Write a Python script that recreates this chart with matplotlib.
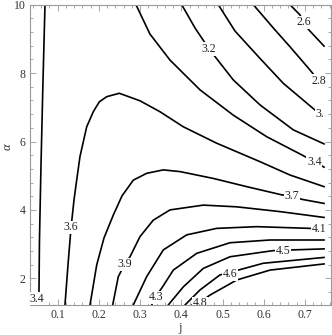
import matplotlib.pyplot as plt
from matplotlib.ticker import MultipleLocator

# contour lines, as (j, alpha) pairs
j_34a = [0.0692, 0.0640, 0.0595, 0.0558, 0.0546, 0.0546]
a_34a = [10.0, 7.60, 5.31, 3.12, 1.60, 1.22]

j_34b = [0.2900, 0.3240, 0.3726, 0.4454, 0.5262, 0.6073, 0.6922, 0.7228, 0.7464]
a_34b = [10.0, 9.14, 8.38, 7.51, 6.77, 6.14, 5.61, 5.41, 5.25]

j_36 = [0.1177, 0.1250, 0.1323, 0.1396, 0.1461, 0.1541, 0.1704, 0.1864, 0.2010,
        0.2189, 0.2495, 0.2998, 0.3483, 0.4049, 0.4859, 0.5910, 0.6638, 0.7464]
a_36 = [1.22, 2.39, 3.47, 4.29, 4.87, 5.56, 6.43, 6.87, 7.16,
        7.31, 7.41, 7.19, 6.87, 6.43, 5.95, 5.41, 5.02, 4.68]

j_37 = [0.1784, 0.1947, 0.2124, 0.2350, 0.2561, 0.2835, 0.3160, 0.3563, 0.3968,
        0.4777, 0.5587, 0.6437, 0.6687, 0.6922, 0.7464]
a_37 = [1.22, 2.39, 3.18, 3.85, 4.41, 4.87, 5.07, 5.17, 5.12,
        4.92, 4.68, 4.44, 4.41, 4.31, 4.19]

j_39 = [0.2335, 0.2471, 0.2633, 0.2755, 0.2998, 0.3320, 0.3726, 0.4534, 0.5345, 0.6396, 0.7464]
a_39 = [1.22, 2.05, 2.42, 2.63, 3.22, 3.70, 4.00, 4.14, 4.09, 3.95, 3.78]

j_41 = [0.2835, 0.3160, 0.3563, 0.4131, 0.4859, 0.5830, 0.7124, 0.7342, 0.7464]
a_41 = [1.22, 2.05, 2.83, 3.27, 3.46, 3.51, 3.46, 3.44, 3.43]

j_43 = [0.3282, 0.3381, 0.3524, 0.3806, 0.4374, 0.5182, 0.6153, 0.7464]
a_43 = [1.22, 1.48, 1.71, 2.24, 2.73, 3.04, 3.12, 3.12]

j_45 = [0.3684, 0.4049, 0.4534, 0.5182, 0.6233, 0.6468, 0.6680, 0.7464]
a_45 = [1.22, 1.75, 2.29, 2.63, 2.81, 2.80, 2.83, 2.86]

j_46 = [0.4090, 0.4454, 0.4939, 0.5182, 0.5383, 0.5990, 0.7464]
a_46 = [1.22, 1.66, 2.10, 2.16, 2.24, 2.44, 2.61]

j_48 = [0.4260, 0.4454, 0.4697, 0.5345, 0.6153, 0.7464]
a_48 = [1.22, 1.30, 1.51, 1.95, 2.24, 2.42]

j_32 = [0.4010, 0.4333, 0.4677, 0.5262, 0.5910, 0.6718, 0.7464]
a_32 = [10.0, 9.32, 8.70, 7.80, 7.07, 6.34, 5.93]

j_30 = [0.4898, 0.5303, 0.5910, 0.6476, 0.7245, 0.7367, 0.7464]
a_30 = [10.0, 9.23, 8.43, 7.70, 6.92, 6.80, 6.72]

j_28 = [0.5748, 0.6233, 0.6638, 0.7124, 0.7330, 0.7464]
a_28 = [10.0, 9.32, 8.77, 8.09, 7.78, 7.65]

j_26 = [0.6638, 0.6881, 0.6966, 0.7083, 0.7464]
a_26 = [10.0, 9.70, 9.48, 9.28, 8.79]

lines = [(j_34a, a_34a), (j_34b, a_34b), (j_36, a_36), (j_37, a_37), (j_39, a_39),
         (j_41, a_41), (j_43, a_43), (j_45, a_45), (j_46, a_46), (j_48, a_48),
         (j_32, a_32), (j_30, a_30), (j_28, a_28), (j_26, a_26)]

# contour labels and where they sit
label_text = ["3.4", "3.6", "3.9", "4.3", "4.8", "4.6", "4.5", "4.1", "3.7",
              "3.4", "3.", "2.8", "2.6", "3.2"]
label_j = [0.0498, 0.1318, 0.2633, 0.3381, 0.4454, 0.5182, 0.6468, 0.7342, 0.6687,
           0.7228, 0.7367, 0.7330, 0.6966, 0.4677]
label_a = [1.39, 3.49, 2.41, 1.44, 1.27, 2.13, 2.79, 3.44, 4.41,
           5.41, 6.80, 7.78, 9.48, 8.70]

fig = plt.figure(figsize=(3.32, 3.35), dpi=100)
ax = fig.add_axes([29.5 / 332, 1 - 304.5 / 335, (331 - 29.5) / 332, (304.5 - 4.7) / 335])

for xs, ys in lines:
    ax.plot(xs, ys, color="black", lw=1.2, solid_joinstyle="round", zorder=2)

for t, x, y in zip(label_text, label_j, label_a):
    ax.text(x, y, t, ha="center", va="center", fontsize=8.5, family="Liberation Serif",
            color="#222222", zorder=3, clip_on=True,
            bbox=dict(boxstyle="square,pad=0.06", fc="white", ec="none"))

ax.set_xlim(0.0316, 0.7633)
ax.set_ylim(1.234, 10.0)

ax.xaxis.set_major_locator(MultipleLocator(0.1))
ax.xaxis.set_minor_locator(MultipleLocator(0.02))
ax.yaxis.set_major_locator(MultipleLocator(2))
ax.yaxis.set_minor_locator(MultipleLocator(0.4))
ax.set_xticks([0.1, 0.2, 0.3, 0.4, 0.5, 0.6, 0.7])
ax.set_xticklabels(["0.1", "0.2", "0.3", "0.4", "0.5", "0.6", "0.7"])
ax.set_yticks([2, 4, 6, 8, 10])

frame = "#999999"
for s in ax.spines.values():
    s.set_color(frame)
    s.set_linewidth(0.8)
ax.tick_params(which="both", direction="in", top=True, right=True, color=frame,
               labelcolor="#333333", width=0.6)
ax.tick_params(which="major", length=4, pad=3)
ax.tick_params(which="minor", length=2)
for lab in ax.get_xticklabels() + ax.get_yticklabels():
    lab.set_family("Liberation Serif")
    lab.set_fontsize(8.5)

ax.set_xlabel("j", family="Liberation Serif", fontsize=9, color="#333333", va="center")
ax.set_ylabel("α", family="Liberation Serif", style="italic", fontsize=9,
              color="#333333", va="center")
ax.xaxis.set_label_coords(0.5, -0.079)
ax.yaxis.set_label_coords(-0.074, 0.525)

fig.savefig("out.png", dpi=100)
